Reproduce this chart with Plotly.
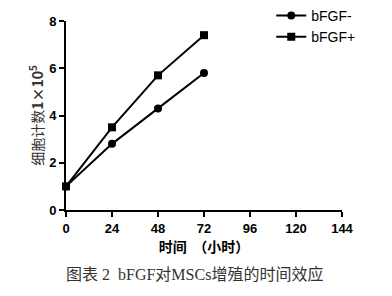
import plotly.graph_objects as go

hours = [0, 24, 48, 72]
bfgf_minus = [1.0, 2.8, 4.3, 5.8]
bfgf_plus = [1.0, 3.5, 5.7, 7.4]
x_ticks = [0, 24, 48, 72, 96, 120, 144]
y_ticks = [0, 2, 4, 6, 8]

fig = go.Figure()
fig.add_trace(go.Scatter(x=hours, y=bfgf_minus, name="bFGF-", mode="lines+markers",
                         line=dict(color="black", width=2),
                         marker=dict(symbol="circle", size=8, color="black"),
                         cliponaxis=False))
fig.add_trace(go.Scatter(x=hours, y=bfgf_plus, name="bFGF+", mode="lines+markers",
                         line=dict(color="black", width=2),
                         marker=dict(symbol="square", size=8, color="black"),
                         cliponaxis=False))

tickfont = dict(family="Liberation Sans, Arial", size=13, color="black", weight="bold")
fig.update_layout(
    width=392, height=296,
    margin=dict(l=66, r=50, t=21, b=86, autoexpand=False),
    paper_bgcolor="white", plot_bgcolor="white",
    showlegend=True,
    legend=dict(x=0.692, y=1.03, xref="container", yref="container",
                xanchor="left", yanchor="top",
                font=dict(family="Liberation Sans, Arial", size=14, color="black"),
                itemwidth=30, tracegroupgap=0, bgcolor="rgba(0,0,0,0)"),
    xaxis=dict(range=[0, 144], tickvals=x_ticks, showline=True, linecolor="black", linewidth=2,
               ticks="outside", ticklen=5, tickwidth=2, tickcolor="black",
               showgrid=False, zeroline=False, tickfont=tickfont,
               title=dict(text="<b>时间  （小时）</b>", standoff=3,
                          font=dict(family="Noto Sans CJK SC", size=14, color="black"))),
    yaxis=dict(range=[0, 8], tickvals=y_ticks, showline=True, linecolor="black", linewidth=2,
               ticks="outside", ticklen=5, tickwidth=2, tickcolor="black",
               showgrid=False, zeroline=False, tickfont=tickfont,
               title=dict(text="细胞计数<b>1×10<sup>5</sup></b>", standoff=2,
                          font=dict(family="Noto Sans CJK SC", size=14, color="#333333"))),
    annotations=[dict(text="图表 2  bFGF对MSCs增殖的时间效应", xref="paper", yref="paper",
                      x=0.467, y=-0.28, xanchor="center", yanchor="top", showarrow=False,
                      font=dict(family="Liberation Serif, Noto Sans CJK SC", size=16, color="#333333"))]
)
fig.write_html("out.html")
